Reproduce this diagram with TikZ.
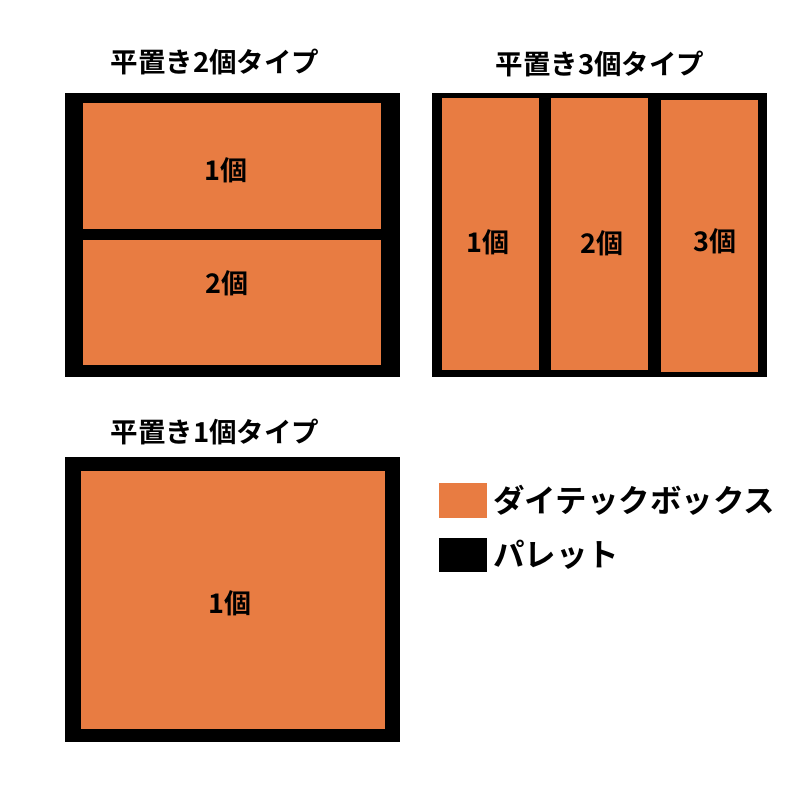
\documentclass[tikz,border=0pt]{standalone}
\usepackage{fontspec}
\newfontfamily\jpfont{Noto Sans CJK JP}[BoldFont=* Bold]
\definecolor{dtorange}{RGB}{232,124,66}

\begin{document}
\begin{tikzpicture}[x=1pt, y=-1pt,
  pallet/.style = {fill=black, inner sep=0pt, outer sep=0pt},
  dtbox/.style = {fill=dtorange, inner sep=0pt, outer sep=0pt},
  count/.style = {inner sep=0pt, font=\jpfont\bfseries\fontsize{27}{30}\selectfont},
  title/.style = {font=\jpfont\bfseries\fontsize{27.5}{30}\selectfont},
  legend/.style = {anchor=west, inner sep=0pt,
    font=\jpfont\bfseries\fontsize{31.5}{34}\selectfont}]
  \useasboundingbox[fill=white] (0,0) rectangle (800,800);

  % 2-box type
  \node[title] (t2) at (215,62) {平置き2個タイプ};
  \node[pallet, minimum width=335, minimum height=284] (p2) at (232.5,234.5) {};
  \node[dtbox, minimum width=298, minimum height=126] (b21) at (232,166) {};
  \node[dtbox, minimum width=298, minimum height=125] (b22) at (232,302.5) {};
  \node[count] (n21) at (226,170) {1個};
  \node[count] (n22) at (227,283) {2個};

  % 3-box type
  \node[title] (t3) at (600,64) {平置き3個タイプ};
  \node[pallet, minimum width=335, minimum height=284] (p3) at (599.5,234.5) {};
  \node[dtbox, minimum width=97, minimum height=272] (b31) at (490.5,234) {};
  \node[dtbox, minimum width=97, minimum height=272] (b32) at (599.5,234) {};
  \node[dtbox, minimum width=97, minimum height=272] (b33) at (709.5,236) {};
  \node[count] (n31) at (488,242) {1個};
  \node[count] (n32) at (602,243) {2個};
  \node[count] (n33) at (715,241) {3個};

  % 1-box type
  \node[title] (t1) at (215,432) {平置き1個タイプ};
  \node[pallet, minimum width=335, minimum height=285] (p1) at (232.5,599.5) {};
  \node[dtbox, minimum width=304, minimum height=258] (b11) at (233,600) {};
  \node[count] (n11) at (230,603) {1個};

  % legend
  \node[dtbox, minimum width=48, minimum height=35] (kbox) at (463,500.5) {};
  \node[pallet, minimum width=48, minimum height=34] (kpal) at (463,555) {};
  \node[legend] (lbox) at (493,500) {ダイテックボックス};
  \node[legend] (lpal) at (493,555) {パレット};
\end{tikzpicture}
\end{document}
